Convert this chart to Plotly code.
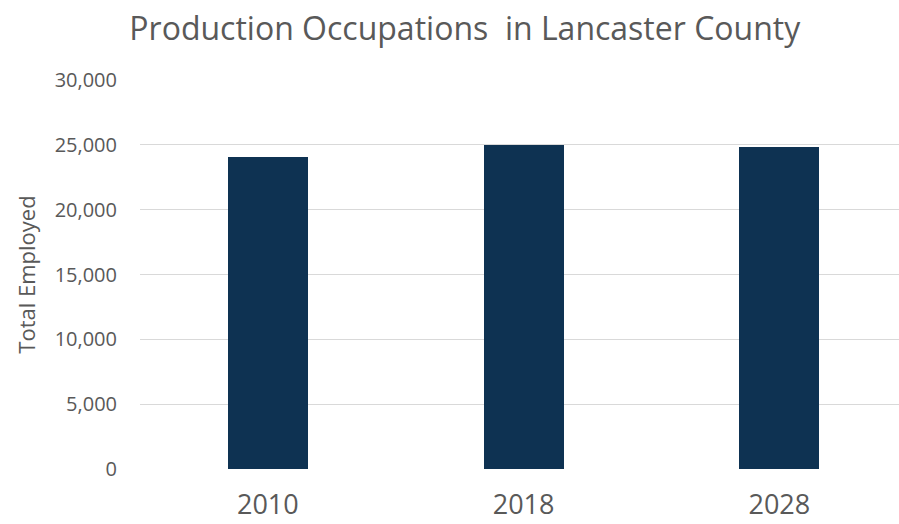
import plotly.graph_objects as go

years = ["2010", "2018", "2028"]
employed = [24050, 24950, 24850]
y_ticks = [0, 5000, 10000, 15000, 20000, 25000, 30000]
y_tick_labels = ["0", "5,000", "10,000", "15,000", "20,000", "25,000", "30,000"]

fig = go.Figure(go.Bar(
    x=years, y=employed, width=0.313,
    marker=dict(color="#0E3252", line=dict(width=0)),
))

fig.update_layout(
    width=899, height=524,
    margin=dict(l=140, r=0, t=80, b=55, autoexpand=False),
    paper_bgcolor="white", plot_bgcolor="white",
    font=dict(family="Open Sans", color="#595959"),
    title=dict(text="Production Occupations  in Lancaster County",
               x=0.517, xanchor="center", y=0.945, yanchor="middle",
               font=dict(size=32, color="#595959")),
    showlegend=False,
    bargap=0,
)
fig.update_xaxes(type="category", range=[-0.5, 2.468], showgrid=False,
                 showline=False, ticks="", tickfont=dict(size=27),
                 ticklabelstandoff=17, automargin=False)
fig.update_yaxes(range=[0, 30000], tickvals=y_ticks, ticktext=y_tick_labels,
                 showgrid=True, gridcolor="#D9D9D9", gridwidth=1.3,
                 zeroline=False, showline=False, tickfont=dict(size=20),
                 ticklabelstandoff=22, automargin=False,
                 title=dict(text="Total Employed", font=dict(size=22), standoff=12))

fig.write_html("out.html", config={"displayModeBar": False},
               post_script="document.body.style.margin='0';document.body.style.overflow='hidden';")
